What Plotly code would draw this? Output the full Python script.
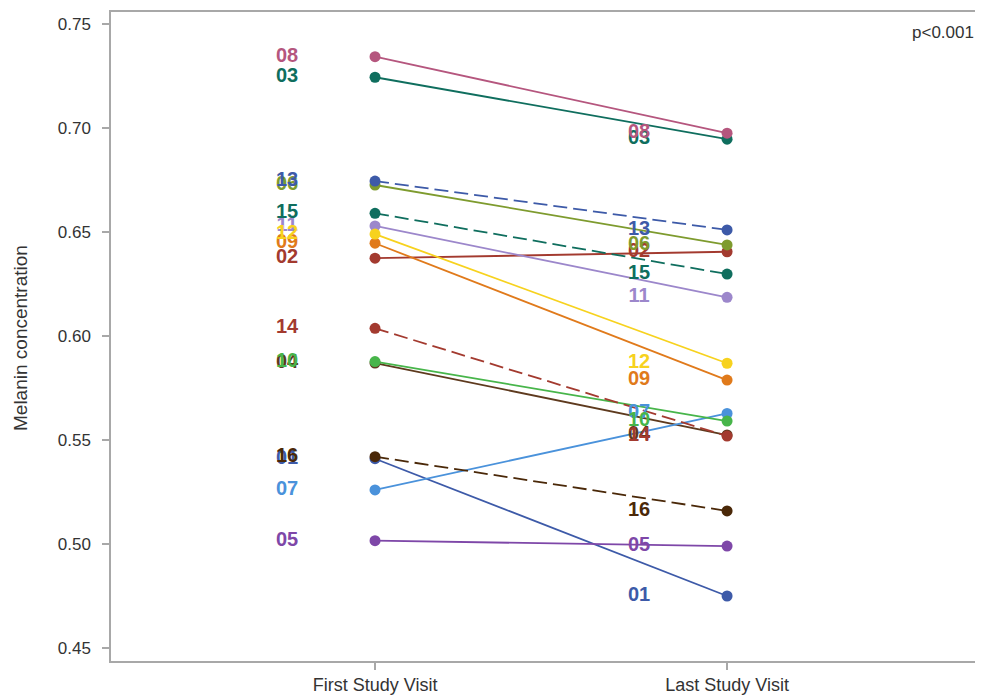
import plotly.graph_objects as go

# ---- data ----
subjects = ["01", "02", "03", "04", "05", "06", "07", "08",
            "09", "10", "11", "12", "13", "14", "15", "16"]
first_visit = [0.541, 0.6374, 0.7244, 0.587, 0.5016, 0.6726, 0.5260, 0.7343,
               0.6446, 0.5877, 0.6529, 0.6490, 0.6745, 0.6037, 0.6590, 0.5420]
last_visit = [0.4750, 0.6405, 0.6946, 0.5524, 0.4990, 0.6438, 0.5628, 0.6975,
              0.5788, 0.5591, 0.6186, 0.5869, 0.6510, 0.5519, 0.6298, 0.5159]
visit_labels = ["First Study Visit", "Last Study Visit"]
y_ticks = [0.45, 0.50, 0.55, 0.60, 0.65, 0.70, 0.75]

# ---- styles ----
colors = ["#3D5AA8", "#A33A2F", "#0F6E5E", "#5E3A1E", "#7E47A8", "#7E9B2E",
          "#4A92DB", "#B5567E", "#E07A1B", "#47B54A", "#9C87CB", "#F7D21E",
          "#3D5AA8", "#A33A2F", "#0F6E5E", "#4A2808"]
dashes = ["solid"] * 12 + ["14px,6px"] * 4

FONT = "Liberation Sans, Arial, sans-serif"

fig = go.Figure()
for s, f, l, c, d in zip(subjects, first_visit, last_visit, colors, dashes):
    fig.add_trace(go.Scatter(
        x=[0, 1], y=[f, l], mode="lines+markers",
        line=dict(color=c, width=1.8, dash=d),
        marker=dict(color=c, size=11),
        showlegend=False, hoverinfo="skip"))
for s, f, l, c in zip(subjects, first_visit, last_visit, colors):
    fig.add_trace(go.Scatter(
        x=[-0.25, 0.75], y=[f, l], mode="text", text=[s, s],
        textposition="middle center",
        textfont=dict(family=FONT, size=20, color=c, weight="bold"),
        showlegend=False, hoverinfo="skip"))

# page body has an 8px margin: plot area spans x 111..983, y 12..661 on screen
fig.update_layout(
    width=975, height=689,
    margin=dict(l=103, r=0, t=4, b=36),
    template="none",
    paper_bgcolor="white", plot_bgcolor="white",
    font=dict(family=FONT, color="#333333"),
    xaxis=dict(range=[-0.75, 1.727], tickvals=[0, 1], ticktext=visit_labels,
               showline=True, linecolor="#A8A8A8", linewidth=1.5, mirror=True,
               ticks="outside", ticklen=7, tickcolor="#A8A8A8", tickwidth=1.5,
               showgrid=False, zeroline=False, automargin=False,
               tickfont=dict(family=FONT, size=18, color="#333333")),
    yaxis=dict(range=[0.44375, 0.75577], tickvals=y_ticks, tickformat=".2f",
               showline=True, linecolor="#A8A8A8", linewidth=1.5, mirror=False,
               ticks="outside", ticklen=7, tickcolor="#A8A8A8", tickwidth=1.5,
               ticklabelstandoff=8,
               showgrid=False, zeroline=False, automargin=False,
               tickfont=dict(family=FONT, size=17, color="#333333")),
    annotations=[
        dict(text="Melanin concentration", textangle=-90, xref="paper", yref="paper",
             x=(20 - 111) / 872, y=(661 - 338) / 649, xanchor="center", yanchor="middle",
             showarrow=False, font=dict(family=FONT, size=19, color="#333333")),
        dict(text="p<0.001", xref="paper", yref="paper",
             x=(976 - 111) / 872, y=(661 - 33) / 649, xanchor="right", yanchor="middle",
             showarrow=False, font=dict(family=FONT, size=17, color="#333333")),
    ],
)

fig.write_html("out.html")
